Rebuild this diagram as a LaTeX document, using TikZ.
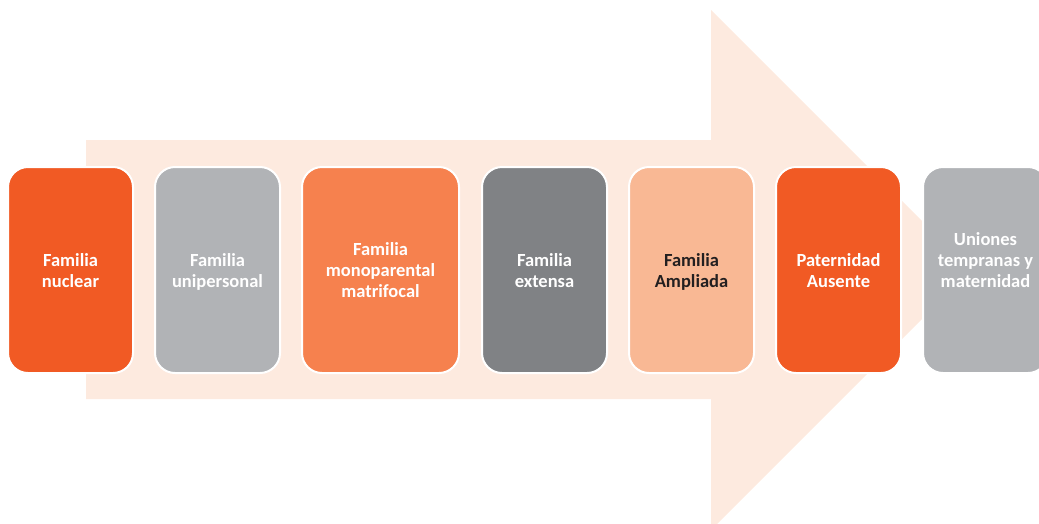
\documentclass[tikz,border=0pt]{standalone}
\usepackage{fontspec}
\setmainfont{Carlito}
\definecolor{arrowfill}{HTML}{FDEADF}
\definecolor{cred}{HTML}{F15A24}
\definecolor{cgray}{HTML}{B1B3B6}
\definecolor{corange}{HTML}{F6814E}
\definecolor{cdark}{HTML}{808285}
\definecolor{cpeach}{HTML}{F9B894}
\definecolor{ctext}{HTML}{231F20}
\newcommand\mytopstrut{\rule{0pt}{19.7pt}}
\begin{document}
\begin{tikzpicture}[x=1pt,y=-1pt,
  box/.style={draw=white,line width=2pt,rounded corners=20pt,minimum height=206pt,
    minimum width=125pt,align=center,text=white,inner sep=0pt,
    font=\fontsize{18.5}{21}\selectfont\bfseries}]
\useasboundingbox (0,0) rectangle (1039,523);
\fill[arrowfill] (86,140) -- (711,140) -- (711,10) -- (971,270) -- (711,530) -- (711,399) -- (86,399) -- cycle;
\node[box,fill=cred] (b1) at (70.5,270) {\mytopstrut Familia\\nuclear\strut};
\node[box,fill=cgray] (b2) at (217.5,270) {\mytopstrut Familia\\unipersonal\strut};
\node[box,fill=corange,minimum width=157pt] (b3) at (380.5,270) {\mytopstrut Familia\\monoparental\\matrifocal\strut};
\node[box,fill=cdark] (b4) at (544.5,270) {\mytopstrut Familia\\extensa\strut};
\node[box,fill=cpeach,text=ctext] (b5) at (691.5,270) {\mytopstrut Familia\\Ampliada\strut};
\node[box,fill=cred] (b6) at (838.5,270) {\mytopstrut Paternidad\\Ausente\strut};
\node[box,fill=cgray] (b7) at (985.5,270) {\mytopstrut Uniones\\tempranas y\\maternidad\\\strut};
\end{tikzpicture}
\end{document}
